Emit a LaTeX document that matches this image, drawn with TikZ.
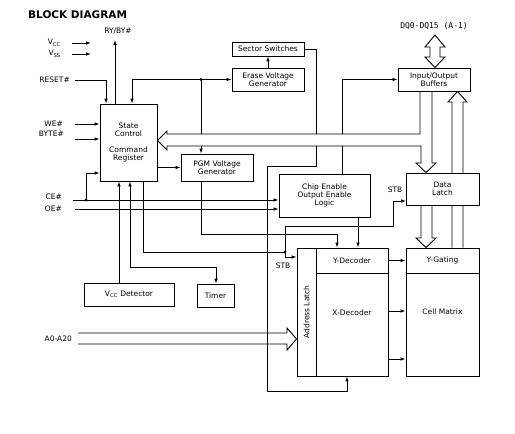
\documentclass[tikz,border=0pt]{standalone}
\usepackage{fontspec}
\setmainfont{DejaVu Sans}
\setmonofont{DejaVu Sans Mono}
\usetikzlibrary{arrows.meta}

\tikzset{
  blk/.style={draw, line width=0.9pt, inner sep=1pt, align=center, font=\fontsize{7.5}{8}\selectfont},
  txt/.style={inner sep=0pt, align=center, font=\fontsize{7.5}{8}\selectfont},
  sig/.style={line width=0.9pt, -{Latex[length=5pt,width=3.6pt]}},
  sigboth/.style={line width=0.9pt, {Latex[length=5pt,width=3.6pt]}-{Latex[length=5pt,width=3.6pt]}},
  wire/.style={line width=0.9pt},
}

\begin{document}
\begin{tikzpicture}[x=1pt,y=-1pt]
\useasboundingbox (0,0) rectangle (515,434);

% Title
\node[anchor=west, inner sep=0pt, font=\bfseries\fontsize{10.5}{12}\selectfont] (title) at (28,15) {BLOCK DIAGRAM};

% Blocks
\node[blk, minimum width=57pt, minimum height=77pt] (ctrl) at (128.5,142.5) {State\\Control\\[8pt]Command\\Register};
\node[blk, minimum width=72pt, minimum height=14pt] (sect) at (268,49) {Sector Switches};
\node[blk, minimum width=72pt, minimum height=23pt] (erase) at (268,79.5) {Erase Voltage\\Generator};
\node[blk, minimum width=72pt, minimum height=27pt] (pgm) at (217,167.5) {PGM Voltage\\Generator};
\node[blk, minimum width=72pt, minimum height=23pt] (iob) at (434,79.5) {Input/Output\\Buffers};
\node[blk, minimum width=91pt, minimum height=43pt] (ceoe) at (324.5,195.5) {Chip Enable\\Output Enable\\Logic};
\node[blk, minimum width=90pt, minimum height=23pt] (vccdet) at (129,294.5) {V\textsubscript{CC} Detector};
\node[blk, minimum width=37pt, minimum height=23pt] (timer) at (215.5,295.5) {Timer};
\node[blk, minimum width=19pt, minimum height=128pt] (addr) at (306.5,312) {};
\node[blk, minimum width=72pt, minimum height=25pt] (ydec) at (352,260.5) {Y-Decoder};
\node[blk, minimum width=72pt, minimum height=103pt] (xdec) at (352,324.5) {};
\node[blk, minimum width=73pt, minimum height=25pt] (ygate) at (442.5,260.5) {Y-Gating};
\node[blk, minimum width=73pt, minimum height=103pt] (cell) at (442.5,324.5) {};
\node[txt, rotate=90] (addrlbl) at (addr) {Address Latch};
\node[txt] (xdeclbl) at (352,313) {X-Decoder};
\node[txt] (celllbl) at (442.5,312) {Cell Matrix};

% Pin labels
\node[txt, anchor=east] (vcc) at (61,43) {V\textsubscript{CC}};
\node[txt, anchor=east] (vss) at (61,54) {V\textsubscript{SS}};
\node[txt, anchor=east] (reset) at (70,80) {RESET\#};
\node[txt] (ryby) at (118,31) {RY/BY\#};
\node[txt, anchor=east] (we) at (63,124) {WE\#};
\node[txt, anchor=east] (byte) at (64,134) {BYTE\#};
\node[txt, anchor=east] (ce) at (62,197) {CE\#};
\node[txt, anchor=east] (oe) at (62,209) {OE\#};
\node[txt, anchor=east] (addrin) at (72,339) {A0-A20};
\node[inner sep=0pt, font=\ttfamily\fontsize{8}{9}\selectfont] (dq) at (434,26) {DQ0-DQ15 (A-1)};
\node[txt] (stbd) at (395,190) {STB};
\node[txt] (stba) at (283,266) {STB};

% Pin ends and junctions
\coordinate (vccpin) at (72,43);
\coordinate (vsspin) at (72,54);
\coordinate (rstpin) at (75,80);
\coordinate (rybyout) at (115,40);
\coordinate (wepin) at (75,124);
\coordinate (bytepin) at (75,139);
\coordinate (cepin) at (73,200);
\coordinate (oepin) at (75,209);
\coordinate (cej) at (86,200);
\coordinate (ersj) at (201,79.5);
\coordinate (stbj) at (285,252);

% Supply and control inputs
\draw[sig] (vccpin) -- ++(19,0);
\draw[sig] (vsspin) -- ++(19,0);
\draw[sig] (rstpin) -| (ctrl.north west -| 106,0);
\draw[sig] (ctrl.north west -| rybyout) -- (rybyout);
\draw[sig] (wepin) -- (ctrl.west |- wepin);
\draw[sig] (bytepin) -- (ctrl.west |- bytepin);
\draw[sig] (cepin) -- (ceoe.west |- cepin);
\draw[sig] (oepin) -- (ceoe.west |- oepin);
\draw[sig] (cej) |- (ctrl.west |- 0,173);
\fill (cej) circle (1.6);

% Erase / program voltage feed
\draw[sig] (ersj) -| (ctrl.north west -| 132,0);
\draw[sig] (ersj) -- (erase.west);
\draw[wire] (ersj) -- (201,134);
\draw[sig] (201,146) -- (pgm.north -| ersj);
\fill (ersj) circle (1.6);
\draw[sig] (erase.north) -- (sect.south);
\draw[sig] (ctrl.east |- pgm.west) -- (pgm.west);

% Taps on the internal bus
\draw[wire] (sect.east) -| (316,134);
\draw[sig] (342,134) |- (iob.west);
\draw[sig] (316,146) |- (267,166) |- (347,391) -- (xdec.south -| 347,0);
\draw[wire] (342,146) -- (ceoe.north -| 342,0);

% To the decoders
\draw[sig] (pgm.south -| ersj) |- (337,234) -- (ydec.north -| 337,0);
\draw[sig] (ceoe.south -| 358,0) -- (ydec.north -| 358,0);

% STB strobes
\draw[wire] (ctrl.south -| 143,0) |- (stbj);
\draw[sig] (stbj) |- (addr.north west |- 0,257);
\draw[sig] (stbj) |- (393,226) |- (406,201);
\fill (stbj) circle (1.6);

% Vcc detector and timer
\draw[sig] (vccdet.north -| 119,0) -- (ctrl.south -| 119,0);
\draw[sigboth] (ctrl.south -| 130,0) |- (216,267) -- (timer.north -| 216,0);

% Address bus
\draw[wire] (78,333) -- (287,333) -- (287,328) -- (addr.west |- 0,339) -- (287,350) -- (287,344) -- (78,344);

% Decoders to array
\draw[sig] (ydec.east) -- (ygate.west);
\draw[sig] (xdec.east |- 0,311) -- (cell.west |- 0,311);
\draw[sig] (xdec.east |- 0,359) -- (cell.west |- 0,359);

% Read path up to the buffers
\draw[wire] (ygate.north -| 452,0) -- (452,102) -- (448,102) -- (iob.south -| 457.5,0) -- (467,102) -- (463,102) -- (ygate.north -| 463,0);

\node[blk, fill=white, minimum width=73pt, minimum height=32pt] (dlatch) at (442.5,189) {Data\\Latch};

% Internal bus with write path
\draw[wire] (iob.south -| 420,0) -- (420,134) -- (167,134) -- (167,131) -- (ctrl.east |- 0,140.5) -- (167,150) -- (167,146) -- (421,146) -- (421,163) -- (416,163) -- (dlatch.north -| 426,0) -- (436,163) -- (432,163) -- (iob.south -| 432,0);
\draw[wire] (dlatch.south -| 421,0) -- (421,238) -- (416,238) -- (ygate.north -| 426,0) -- (436,238) -- (432,238) -- (dlatch.south -| 432,0);

% Data pins
\draw[wire] (430,47) -- (425,47) -- (435,35) -- (445,47) -- (440,47) -- (440,57) -- (445,57) -- (iob.north -| 435,0) -- (425,57) -- (430,57) -- cycle;
\end{tikzpicture}
\end{document}
